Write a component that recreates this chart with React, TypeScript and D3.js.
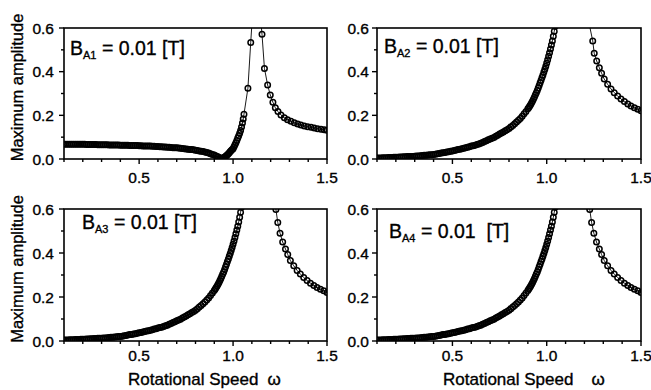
import React from "react";
import * as d3 from "d3";

type Pt = [number, number];

const W = 651;
const H = 390;
const FONT = "'Liberation Sans', Arial, Helvetica, sans-serif";

// ---------- data (omega, maximum amplitude) ----------
const ampA1Left: Pt[] = [
  [0.10,0.068],[0.11,0.068],[0.12,0.068],[0.13,0.068],[0.14,0.068],[0.15,0.067],[0.16,0.067],[0.17,0.067],[0.18,0.067],[0.19,0.067],
  [0.20,0.067],[0.21,0.067],[0.22,0.066],[0.23,0.066],[0.24,0.066],[0.25,0.066],[0.26,0.066],[0.27,0.066],[0.28,0.065],[0.29,0.065],
  [0.30,0.065],[0.31,0.065],[0.32,0.065],[0.33,0.065],[0.34,0.064],[0.35,0.064],[0.36,0.064],[0.37,0.064],[0.38,0.064],[0.39,0.064],
  [0.40,0.063],[0.41,0.063],[0.42,0.063],[0.43,0.063],[0.44,0.063],[0.45,0.062],[0.46,0.062],[0.47,0.062],[0.48,0.062],[0.49,0.062],
  [0.50,0.061],[0.51,0.061],[0.52,0.060],[0.53,0.060],[0.54,0.059],[0.55,0.059],[0.56,0.059],[0.57,0.058],[0.58,0.058],[0.59,0.057],
  [0.60,0.057],[0.61,0.056],[0.62,0.056],[0.63,0.055],[0.64,0.055],[0.65,0.054],[0.66,0.054],[0.67,0.053],[0.68,0.052],[0.69,0.052],
  [0.70,0.051],[0.71,0.050],[0.72,0.049],[0.73,0.048],[0.74,0.047],[0.75,0.046],[0.76,0.045],[0.77,0.044],[0.78,0.043],[0.79,0.042],
  [0.80,0.040],[0.81,0.039],[0.82,0.037],[0.83,0.036],[0.84,0.034],[0.85,0.032],[0.86,0.030],[0.87,0.027],[0.88,0.024],[0.89,0.021],
  [0.90,0.018],[0.91,0.014],[0.92,0.010],[0.93,0.006],[0.935,0.004],[0.94,0.002],[0.945,0.003],[0.95,0.006],[0.955,0.009],[0.96,0.012],
  [0.965,0.016],[0.97,0.020],[0.975,0.024],[0.98,0.029],[0.985,0.034],[0.99,0.039],[0.995,0.043],[1.00,0.047],[1.005,0.056],[1.01,0.065],
  [1.015,0.075],[1.02,0.085],[1.025,0.096],[1.03,0.107],[1.035,0.118],[1.04,0.130],[1.045,0.147],[1.05,0.165],[1.054,0.183],[1.058,0.205],
  [1.079,0.324],[1.094,0.534],[1.11,0.75],
];
const ampA1Right: Pt[] = [
  [1.145,0.66],[1.154,0.571],[1.167,0.415],[1.184,0.339],[1.198,0.293],[1.212,0.260],[1.225,0.235],[1.239,0.217],[1.255,0.202],
  [1.273,0.189],[1.290,0.180],[1.308,0.173],[1.326,0.166],[1.344,0.160],[1.361,0.156],[1.379,0.151],[1.397,0.148],[1.415,0.145],
  [1.432,0.142],[1.450,0.139],[1.468,0.136],[1.485,0.134],[1.500,0.132],
];
const ampA234Left: Pt[] = [
  [0.10,0.005],[0.11,0.005],[0.12,0.005],[0.13,0.006],[0.14,0.006],[0.15,0.006],[0.16,0.007],[0.17,0.007],[0.18,0.007],[0.19,0.008],
  [0.20,0.008],[0.21,0.008],[0.22,0.009],[0.23,0.009],[0.24,0.010],[0.25,0.010],[0.26,0.011],[0.27,0.011],[0.28,0.012],[0.29,0.012],
  [0.30,0.013],[0.31,0.014],[0.32,0.014],[0.33,0.015],[0.34,0.016],[0.35,0.017],[0.36,0.017],[0.37,0.018],[0.38,0.019],[0.39,0.020],
  [0.40,0.021],[0.41,0.022],[0.42,0.024],[0.43,0.025],[0.44,0.027],[0.45,0.029],[0.46,0.030],[0.47,0.032],[0.48,0.033],[0.49,0.035],
  [0.50,0.037],[0.51,0.039],[0.52,0.041],[0.53,0.043],[0.54,0.045],[0.55,0.047],[0.56,0.049],[0.57,0.051],[0.58,0.054],[0.59,0.056],
  [0.60,0.059],[0.61,0.061],[0.62,0.063],[0.63,0.066],[0.64,0.069],[0.65,0.072],[0.66,0.076],[0.67,0.080],[0.68,0.084],[0.69,0.088],
  [0.70,0.092],[0.71,0.095],[0.72,0.099],[0.73,0.104],[0.74,0.109],[0.75,0.114],[0.76,0.119],[0.77,0.124],[0.78,0.129],[0.79,0.134],
  [0.80,0.140],[0.81,0.147],[0.82,0.154],[0.83,0.161],[0.84,0.169],[0.85,0.177],[0.86,0.186],[0.87,0.196],[0.88,0.207],[0.89,0.218],
  [0.90,0.230],[0.905,0.236],[0.91,0.243],[0.915,0.250],[0.92,0.258],[0.925,0.266],[0.93,0.275],[0.935,0.284],[0.94,0.294],[0.945,0.304],
  [0.95,0.314],[0.955,0.325],[0.96,0.337],[0.965,0.349],[0.97,0.361],[0.975,0.373],[0.98,0.385],[0.985,0.398],[0.99,0.411],[0.995,0.425],
  [1.00,0.440],[1.005,0.455],[1.01,0.471],[1.015,0.487],[1.02,0.504],[1.025,0.522],[1.03,0.541],[1.035,0.562],[1.04,0.585],[1.045,0.608],
  [1.05,0.66],
];
const ampA2Right: Pt[] = [
  [1.22,0.64],[1.244,0.541],[1.252,0.484],[1.265,0.449],[1.279,0.418],[1.291,0.393],[1.305,0.366],[1.323,0.342],[1.341,0.321],
  [1.358,0.304],[1.376,0.289],[1.394,0.275],[1.412,0.263],[1.430,0.252],[1.447,0.243],[1.465,0.235],[1.483,0.228],[1.500,0.221],
];
const ampA34Right: Pt[] = [
  [1.21,0.70],[1.228,0.598],[1.238,0.539],[1.250,0.490],[1.264,0.450],[1.279,0.418],[1.291,0.393],[1.305,0.366],[1.323,0.342],[1.341,0.321],
  [1.358,0.304],[1.376,0.289],[1.394,0.275],[1.412,0.263],[1.430,0.252],[1.447,0.243],[1.465,0.235],[1.483,0.228],[1.500,0.221],
];

const omegaDomain = [0.1, 1.5];
const ampDomain = [0, 0.6];
const omegaMajor = [0.5, 1.0, 1.5];
const ampMajor = [0.0, 0.2, 0.4, 0.6];
const panelSubs = ["A1", "A2", "A3", "A4"];
const panelValueText = [" = 0.01 [T]", " = 0.01 [T]", " = 0.01 [T]", " = 0.01  [T]"];
const yTitle = "Maximum amplitude";
const xTitle = "Rotational Speed";
const xTitleSymbol = "ω";

const seriesList: Pt[][] = [
  [...ampA1Left, ...ampA1Right],
  [...ampA234Left, ...ampA2Right],
  [...ampA234Left, ...ampA34Right],
  [...ampA234Left, ...ampA34Right],
];

// ---------- layout ----------
const frames = [
  { x0: 64, x1: 327, y0: 28, y1: 159, labelDx: 6, labelDy: 27, yLabGap: 10, xLabDy: 23.5, yTitle: true, xTitle: false, xTitleDx: 64, omegaGap: 9 },
  { x0: 377, x1: 641, y0: 28, y1: 159, labelDx: 7, labelDy: 25, yLabGap: 8, xLabDy: 23.5, yTitle: false, xTitle: false, xTitleDx: 66, omegaGap: 18 },
  { x0: 64, x1: 327, y0: 209, y1: 341, labelDx: 18, labelDy: 20, yLabGap: 10, xLabDy: 20, yTitle: true, xTitle: true, xTitleDx: 64, omegaGap: 9 },
  { x0: 377, x1: 641, y0: 209, y1: 341, labelDx: 12, labelDy: 29, yLabGap: 8, xLabDy: 20, yTitle: false, xTitle: true, xTitleDx: 66, omegaGap: 18 },
];

const TXT = { fontFamily: FONT, fill: "#000", stroke: "#000", strokeWidth: 0.35 };

function Panel({ idx }: { idx: number }) {
  const f = frames[idx];
  const data = seriesList[idx];
  const x = d3.scaleLinear().domain(omegaDomain).range([f.x0, f.x1]);
  const y = d3.scaleLinear().domain(ampDomain).range([f.y1, f.y0]);
  const line = d3.line<Pt>().x((d) => x(d[0])).y((d) => y(d[1]));
  const xTicks = x.ticks(14);
  const yTicks = y.ticks(6);
  const isMajorX = (v: number) => omegaMajor.some((m) => Math.abs(m - v) < 1e-6);
  const isMajorY = (v: number) => ampMajor.some((m) => Math.abs(m - v) < 1e-6);
  const clipId = `clip-${idx}`;
  const fmt = d3.format(".1f");
  const yMid = (f.y0 + f.y1) / 2 - 6;

  return (
    <g>
      <defs>
        <clipPath id={clipId}>
          <rect x={f.x0} y={f.y0} width={f.x1 - f.x0} height={f.y1 - f.y0} />
        </clipPath>
      </defs>
      <g clipPath={`url(#${clipId})`}>
        <path d={line(data) || ""} fill="none" stroke="#000" strokeWidth={0.9} />
        {data.map((d, i) => (
          <circle key={i} cx={x(d[0])} cy={y(d[1])} r={2.75} fill="none" stroke="#000" strokeWidth={1.5} />
        ))}
      </g>
      <rect x={f.x0} y={f.y0} width={f.x1 - f.x0} height={f.y1 - f.y0} fill="none" stroke="#000" strokeWidth={1.6} />
      {xTicks.map((t, i) => (
        <line key={"xt" + i} x1={x(t)} x2={x(t)} y1={f.y1} y2={f.y1 + (isMajorX(t) ? 5 : 3)} stroke="#000" strokeWidth={1.4} />
      ))}
      {yTicks.map((t, i) => (
        <line key={"yt" + i} x1={f.x0} x2={f.x0 - (isMajorY(t) ? 5 : 3)} y1={y(t)} y2={y(t)} stroke="#000" strokeWidth={1.4} />
      ))}
      {omegaMajor.map((t, i) => (
        <text key={"xl" + i} x={x(t)} y={f.y1 + f.xLabDy} textAnchor="middle" fontSize={15.5} {...TXT}>
          {fmt(t)}
        </text>
      ))}
      {ampMajor.map((t, i) => (
        <text key={"yl" + i} x={f.x0 - f.yLabGap} y={y(t) + 5.5} textAnchor="end" fontSize={15.5} {...TXT}>
          {fmt(t)}
        </text>
      ))}
      <text x={f.x0 + f.labelDx} y={f.y0 + f.labelDy} fontSize={19.5} {...TXT} style={{ whiteSpace: "pre" }}>
        B
        <tspan fontSize={11} dy={4}>{panelSubs[idx]}</tspan>
        <tspan fontSize={19.5} dy={-4}>{panelValueText[idx]}</tspan>
      </text>
      {f.yTitle && (
        <text transform={`translate(23,${yMid}) rotate(-90)`} textAnchor="middle" fontSize={16.5} {...TXT}>
          {yTitle}
        </text>
      )}
      {f.xTitle && (
        <text x={f.x0 + f.xTitleDx} y={385} fontSize={17} {...TXT}>
          {xTitle}
          <tspan dx={f.omegaGap}>{xTitleSymbol}</tspan>
        </text>
      )}
    </g>
  );
}

export default function App() {
  return (
    <svg
      width={W}
      height={H}
      viewBox={`0 0 ${W} ${H}`}
      style={{ position: "absolute", left: 0, top: 0, background: "#fff" }}
    >
      <rect width={W} height={H} fill="#fff" />
      {frames.map((_, i) => (
        <Panel key={i} idx={i} />
      ))}
    </svg>
  );
}
